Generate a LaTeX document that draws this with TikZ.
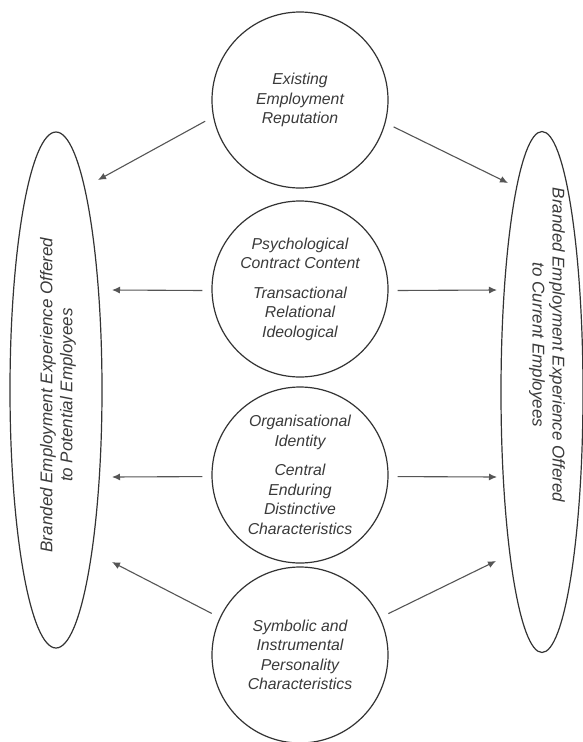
\documentclass[tikz,border=0pt]{standalone}
\usepackage{fontspec}
\setmainfont{Liberation Sans}
\usetikzlibrary{arrows.meta,shapes.geometric}
\definecolor{ink}{HTML}{333333}
\definecolor{txt}{HTML}{3A3A3A}
\definecolor{arr}{HTML}{555555}
\begin{document}
\begin{tikzpicture}[x=1pt,y=-1pt,
  bubble/.style={circle,draw=ink,line width=1.2pt,minimum size=176pt,inner sep=0pt,
    align=center,text=txt,font=\fontsize{15.8}{19.5}\selectfont\itshape},
  oval/.style={ellipse,draw=ink,line width=1.2pt,inner sep=0pt},
  ovaltext/.style={align=center,text=txt,font=\fontsize{17}{20}\selectfont\itshape,inner sep=0pt},
  link/.style={draw=arr,line width=1.1pt,shorten <=9pt,-{Latex[length=8pt,width=7pt]}}]
\useasboundingbox (0,0) rectangle (582,742);
\fill[white] (0,0) rectangle (582,742);

% ellipses
\node[oval,minimum width=92pt,minimum height=516pt] (L) at (56,390) {};
\node[oval,minimum width=82pt,minimum height=521pt] (R) at (542,392) {};
\node[ovaltext,rotate=90] (Lt) at (58,395) {Branded Employment Experience Offered\\to Potential Employees};
\node[ovaltext,rotate=-90] (Rt) at (547,345) {Branded Employment Experience Offered\\to Current Employees};

% circles
\node[bubble] (c1) at (300,100) {Existing\\Employment\\Reputation};
\node[bubble] (c2) at (300,289) {Psychological\\Contract Content\\[10pt]Transactional\\Relational\\Ideological};
\node[bubble] (c3) at (300,475) {Organisational\\Identity\\[10pt]Central\\Enduring\\Distinctive\\Characteristics};
\node[bubble] (c4) at (300,655) {Symbolic and\\Instrumental\\Personality\\Characteristics};

% arrow tips
\coordinate (t1L) at (98,180);
\coordinate (t1R) at (508,183);
\coordinate (t2L) at (112,290);
\coordinate (t2R) at (497,290);
\coordinate (t3L) at (112,477);
\coordinate (t3R) at (497,477);
\coordinate (t4L) at (112,562);
\coordinate (t4R) at (496,561);

\draw[link] (c1.191) -- (t1L);
\draw[link] (c1.345) -- (t1R);
\draw[link] (c2.181) -- (t2L);
\draw[link] (c2.359) -- (t2R);
\draw[link] (c3.181) -- (t3L);
\draw[link] (c3.359) -- (t3R);
\draw[link] (c4.155) -- (t4L);
\draw[link] (c4.25) -- (t4R);
\end{tikzpicture}
\end{document}
